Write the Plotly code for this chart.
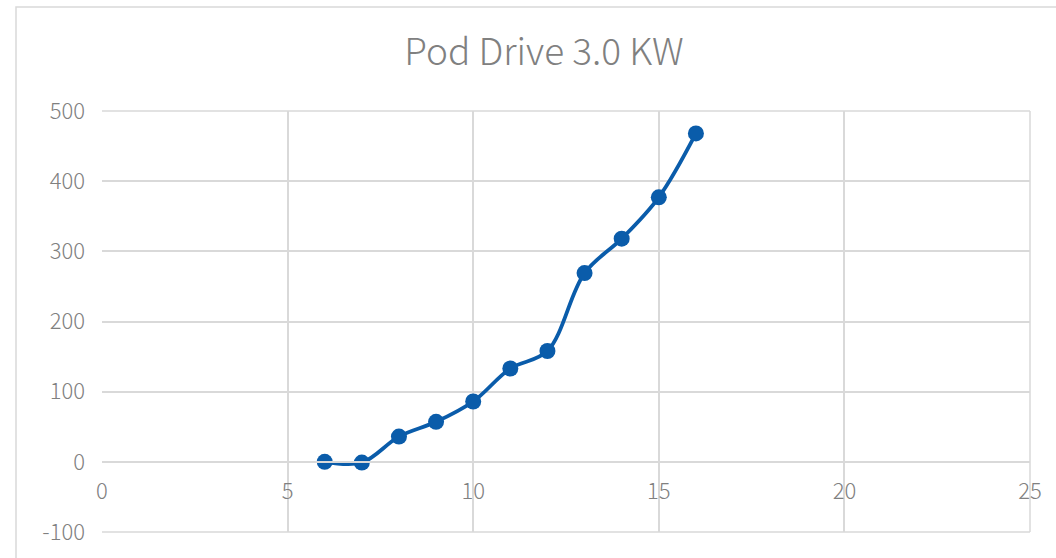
import plotly.graph_objects as go

speed = [6, 7, 8, 9, 10, 11, 12, 13, 14, 15, 16]
power = [0, -1, 36, 57, 86, 133, 158, 269, 318, 377, 468]

title_text = "Pod Drive 3.0 KW"
x_ticks = [0, 5, 10, 15, 20, 25]
y_ticks = [-100, 0, 100, 200, 300, 400, 500]
y_tick_text = ["-100", "0", "100", "200", "300", "400", "500"]

W, H = 1056, 558
L, T = 102, 111
R = W - 1030
B = H - 536
pw, ph = W - L - R, H - T - B

line_color = "#0A5CAA"
grid_color = "#D9D9D9"
text_color = "#808080"
font_family = "Noto Sans CJK SC, Noto Sans, sans-serif"

fig = go.Figure()
fig.add_trace(go.Scatter(
    x=speed, y=power, mode="lines+markers",
    line=dict(color=line_color, width=3.8, shape="spline", smoothing=1.0),
    marker=dict(color=line_color, size=16),
    showlegend=False, hoverinfo="x+y",
))

fig.update_layout(
    width=W, height=H,
    margin=dict(l=L, r=R, t=T, b=B, pad=0),
    paper_bgcolor="white", plot_bgcolor="white",
    title=dict(text=title_text, x=544 / W, xref="container", xanchor="center",
               y=1 - 52 / H, yref="container", yanchor="middle",
               font=dict(family=font_family, size=37, color=text_color, weight=300)),
    font=dict(family=font_family, color=text_color),
    xaxis=dict(range=[0, 25], tickvals=x_ticks, showgrid=True, gridcolor=grid_color,
               gridwidth=1.5, zeroline=False, showline=True, linecolor=grid_color,
               linewidth=1.5, anchor="free", position=1 / 6, ticks="",
               tickfont=dict(family=font_family, size=22, color=text_color, weight=300),
               ticklabelstandoff=10, fixedrange=True),
    yaxis=dict(range=[-100, 500], tickvals=y_ticks, ticktext=y_tick_text, showgrid=True,
               gridcolor=grid_color, gridwidth=1.5, zeroline=False, showline=False, ticks="",
               tickfont=dict(family=font_family, size=22, color=text_color, weight=300),
               ticklabelstandoff=16, fixedrange=True),
    shapes=[
        dict(type="rect", xref="paper", yref="paper",
             x0=(16 - L) / pw, x1=(W + 20 - L) / pw,
             y0=-(B + 20) / ph, y1=(H - B - 6) / ph,
             line=dict(color="#D9D9D9", width=1.5), fillcolor="rgba(0,0,0,0)", layer="below"),
        dict(type="line", xref="paper", yref="paper", x0=0, x1=1, y0=0, y1=0,
             line=dict(color=grid_color, width=1.5), layer="below"),
        dict(type="line", xref="paper", yref="paper", x0=1, x1=1, y0=0, y1=1,
             line=dict(color=grid_color, width=1.5), layer="below"),
        dict(type="line", xref="paper", yref="paper", x0=0, x1=1, y0=1, y1=1,
             line=dict(color=grid_color, width=1.5), layer="below"),
    ],
)

fig.write_html("out.html", config={"displayModeBar": False},
               post_script="document.body.style.margin='0';document.body.style.overflow='hidden';")
